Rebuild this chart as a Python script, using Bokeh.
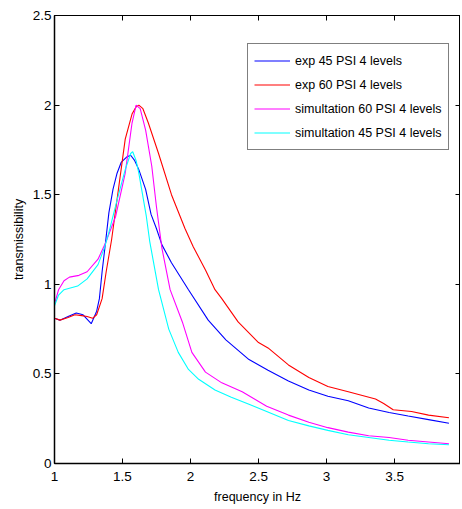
from bokeh.plotting import figure
from bokeh.models import Range1d, LinearAxis, FixedTicker, Legend, LegendItem
from bokeh.embed import file_html
from bokeh.resources import INLINE

# ---- data ----
exp45_x = [1.00, 1.04, 1.10, 1.16, 1.21, 1.27, 1.31, 1.33, 1.35, 1.37, 1.40, 1.43, 1.46, 1.49, 1.53, 1.56,
           1.59, 1.62, 1.67, 1.71, 1.75, 1.79, 1.86, 1.985, 2.13, 2.26, 2.43, 2.57, 2.72, 2.87, 3.01,
           3.16, 3.31, 3.46, 3.60, 3.75, 3.90]
exp45_y = [0.81, 0.80, 0.82, 0.84, 0.83, 0.78, 0.85, 0.92, 1.07, 1.20, 1.40, 1.53, 1.62, 1.68, 1.71, 1.72,
           1.69, 1.64, 1.53, 1.39, 1.31, 1.22, 1.12, 0.97, 0.80, 0.69, 0.58, 0.52, 0.46, 0.41, 0.375,
           0.35, 0.31, 0.285, 0.265, 0.245, 0.225]

exp60_x = [1.00, 1.04, 1.10, 1.15, 1.20, 1.24, 1.28, 1.31, 1.35, 1.38, 1.42, 1.47, 1.52, 1.57, 1.60, 1.62,
           1.65, 1.69, 1.765, 1.86, 1.96, 2.02, 2.11, 2.18, 2.23, 2.35, 2.50, 2.57, 2.72, 2.87, 3.01, 3.16,
           3.36, 3.42, 3.49, 3.625, 3.75, 3.90]
exp60_y = [0.81, 0.80, 0.815, 0.83, 0.825, 0.82, 0.81, 0.83, 0.92, 1.07, 1.25, 1.53, 1.81, 1.95, 1.99, 2.00,
           1.98, 1.90, 1.73, 1.50, 1.31, 1.21, 1.08, 0.97, 0.92, 0.79, 0.675, 0.645, 0.55, 0.48, 0.43, 0.40,
           0.36, 0.335, 0.30, 0.29, 0.27, 0.255]

sim60_x = [1.00, 1.03, 1.07, 1.11, 1.18, 1.24, 1.32, 1.375, 1.45, 1.52, 1.57, 1.60, 1.63, 1.67, 1.715,
           1.75, 1.79, 1.85, 1.94, 2.01, 2.11, 2.23, 2.38, 2.56, 2.72, 2.87, 3.01, 3.16, 3.31, 3.46,
           3.60, 3.75, 3.90]
sim60_y = [0.89, 0.97, 1.02, 1.04, 1.05, 1.07, 1.14, 1.23, 1.38, 1.62, 1.90, 2.00, 1.98, 1.86, 1.66,
           1.43, 1.20, 0.97, 0.79, 0.62, 0.51, 0.45, 0.40, 0.32, 0.27, 0.23, 0.20, 0.175, 0.155, 0.145,
           0.13, 0.12, 0.11]

sim45_x = [1.00, 1.03, 1.07, 1.17, 1.24, 1.32, 1.37, 1.40, 1.46, 1.52, 1.56, 1.575, 1.60, 1.62, 1.675,
           1.70, 1.765, 1.84, 1.91, 1.985, 2.06, 2.18, 2.30, 2.43, 2.56, 2.72, 2.87, 3.01, 3.16, 3.31,
           3.46, 3.60, 3.75, 3.90]
sim45_y = [0.88, 0.94, 0.97, 0.99, 1.03, 1.11, 1.21, 1.29, 1.47, 1.64, 1.73, 1.74, 1.69, 1.62, 1.38,
           1.24, 0.97, 0.75, 0.62, 0.525, 0.47, 0.41, 0.37, 0.33, 0.29, 0.24, 0.21, 0.185, 0.16, 0.145,
           0.13, 0.12, 0.11, 0.105]

series_labels = ["exp 45 PSI 4 levels", "exp 60 PSI 4 levels",
                 "simultation 60 PSI 4 levels", "simultation 45 PSI 4 levels"]
series_colors = ["#0000ff", "#ff0000", "#ff00ff", "#00ffff"]

x_ticks = [1, 1.5, 2, 2.5, 3, 3.5, 4]
x_tick_labels = ["1", "1.5", "2", "2.5", "3", "3.5", "4"]
y_ticks = [0, 0.5, 1, 1.5, 2, 2.5]
y_tick_labels = ["0", "0.5", "1", "1.5", "2", "2.5"]

x_label = "frequency in Hz"
y_label = "transmissibility"

FONT = "Liberation Sans"

p = figure(frame_width=406, frame_height=448, output_backend="svg", toolbar_location=None,
           x_range=Range1d(1, 3.985), y_range=Range1d(0, 2.5),
           min_border_left=54, min_border_right=0, min_border_top=15, min_border_bottom=42,
           x_axis_label=x_label, y_axis_label=y_label)
p.xgrid.visible = False
p.ygrid.visible = False
p.outline_line_color = "black"
p.background_fill_color = "white"
p.border_fill_color = "white"

xs = [exp45_x, exp60_x, sim60_x, sim45_x]
ys = [exp45_y, exp60_y, sim60_y, sim45_y]
renderers = []
for x, y, c in zip(xs, ys, series_colors):
    renderers.append(p.line(x, y, line_color=c, line_width=1.1))

def style_axis(ax, ticks, labels):
    ax.ticker = FixedTicker(ticks=ticks)
    ax.major_label_overrides = {t: l for t, l in zip(ticks, labels)}
    ax.minor_tick_line_color = None
    ax.major_tick_in = 5
    ax.major_tick_out = 0
    ax.axis_line_color = "black"
    ax.major_tick_line_color = "black"
    ax.major_label_text_font = FONT
    ax.major_label_text_color = "black"
    ax.major_label_text_font_size = "13.5px"
    ax.axis_label_text_font = FONT
    ax.axis_label_text_font_style = "normal"
    ax.axis_label_text_font_size = "12.5px"
    ax.axis_label_text_color = "black"

style_axis(p.xaxis[0], x_ticks, x_tick_labels)
style_axis(p.yaxis[0], y_ticks, y_tick_labels)
p.xaxis[0].axis_line_width = 1.5
p.yaxis[0].axis_line_width = 1.5
p.xaxis[0].major_label_standoff = 8
p.xaxis[0].axis_label_standoff = 6
p.yaxis[0].major_label_standoff = 3
p.yaxis[0].axis_label_standoff = 4

top = LinearAxis()
style_axis(top, x_ticks, [""] * len(x_ticks))
top.major_label_standoff = 0
top.axis_label = None
p.add_layout(top, "above")

right = LinearAxis()
style_axis(right, y_ticks, [""] * len(y_ticks))
right.major_label_standoff = 0
right.axis_label = None
p.add_layout(right, "right")

legend = Legend(items=[LegendItem(label=l, renderers=[r]) for l, r in zip(series_labels, renderers)],
                location=(193, 313))
legend.label_text_font = FONT
legend.label_text_font_size = "12.5px"
legend.label_text_color = "black"
legend.glyph_width = 36
legend.glyph_height = 21
legend.label_height = 21
legend.spacing = 3
legend.padding = 6
legend.margin = 0
legend.label_standoff = 5
legend.border_line_color = "black"
legend.border_line_width = 1
legend.background_fill_color = "white"
legend.background_fill_alpha = 1.0
p.add_layout(legend, "center")

open("out.html", "w").write(file_html(p, INLINE))
